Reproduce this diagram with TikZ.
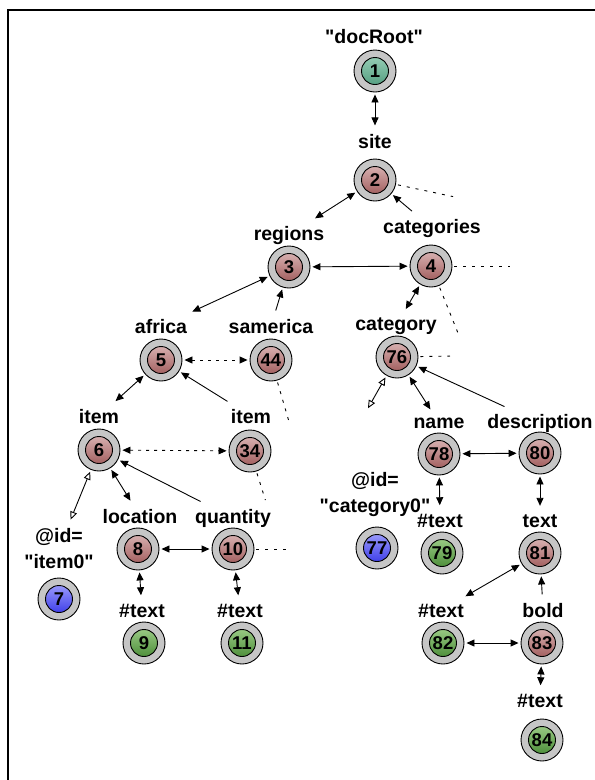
\documentclass[tikz,border=0pt]{standalone}
\usepackage{fontspec}
\setmainfont{Liberation Sans}[Ligatures=TeXOff]
\usetikzlibrary{arrows.meta,positioning}

\definecolor{ringgray}{RGB}{198,198,198}
\definecolor{elemtop}{RGB}{228,196,196}
\definecolor{elembot}{RGB}{150,76,76}
\definecolor{texttop}{RGB}{172,216,150}
\definecolor{textbot}{RGB}{58,128,40}
\definecolor{attrtop}{RGB}{176,176,255}
\definecolor{attrbot}{RGB}{40,40,228}
\definecolor{roottop}{RGB}{164,216,192}
\definecolor{rootbot}{RGB}{70,148,118}

\begin{document}
\begin{tikzpicture}[x=1pt,y=-1pt,line width=0.9pt,>={Triangle[length=8pt,width=7pt]},shorten >=2pt,shorten <=2pt]
    \tikzstyle{ring}=[circle,draw,fill=ringgray,minimum size=42pt,inner sep=0pt,font=\bfseries\fontsize{18.5}{18.5}\selectfont]
    \tikzstyle{root}=[ring,path picture={\shadedraw[top color=roottop,bottom color=rootbot] (path picture bounding box.center) circle (13.5pt);}]
    \tikzstyle{elem}=[ring,path picture={\shadedraw[top color=elemtop,bottom color=elembot] (path picture bounding box.center) circle (13.5pt);}]
    \tikzstyle{txt}=[ring,path picture={\shadedraw[top color=texttop,bottom color=textbot] (path picture bounding box.center) circle (13.5pt);}]
    \tikzstyle{attr}=[ring,path picture={\shadedraw[top color=attrtop,bottom color=attrbot] (path picture bounding box.center) circle (13.5pt);}]
    \tikzstyle{tag}=[anchor=base,inner sep=6pt,align=center,font=\bfseries\fontsize{19.5}{26}\selectfont]
    \tikzstyle{dotline}=[dash pattern=on 3pt off 6pt]
    \tikzstyle{sibling}=[dash pattern=on 3pt off 5pt]
    \tikzstyle{attrarrow}=[{Triangle[open,length=8pt,width=7pt]}-{Triangle[open,length=8pt,width=7pt]}]

    \useasboundingbox (0,0) rectangle (595,780);
    \draw[line width=1.2pt,shorten >=0pt,shorten <=0pt] (8,780) -- (8,10) -- (595,10);

    % circles
    \node[root] (n1)  at (375,71)  {1};
    \node[elem] (n2)  at (375,180) {2};
    \node[elem] (n3)  at (289,267) {3};
    \node[elem] (n4)  at (431,266) {4};
    \node[elem] (n5)  at (161,360) {5};
    \node[elem] (n44) at (271,360) {44};
    \node[elem] (n76) at (397,357) {76};
    \node[elem] (n6)  at (99,450)  {6};
    \node[elem] (n34) at (250,451) {34};
    \node[attr] (n7)  at (59,599)  {7};
    \node[elem] (n8)  at (138,549) {8};
    \node[elem] (n10) at (233,549) {10};
    \node[txt]  (n9)  at (144,643) {9};
    \node[txt]  (n11) at (242,643) {11};
    \node[attr] (n77) at (377,548) {77};
    \node[elem] (n78) at (439,454) {78};
    \node[elem] (n80) at (540,453) {80};
    \node[txt]  (n79) at (442,553) {79};
    \node[elem] (n81) at (540,553) {81};
    \node[txt]  (n82) at (443,643) {82};
    \node[elem] (n83) at (542,643) {83};
    \node[txt]  (n84) at (542,740) {84};

    % names
    \node[tag] (l1)  at (374,43)  {"docRoot"};
    \node[tag] (l2)  at (375,148) {site};
    \node[tag] (l3)  at (289,240) {regions};
    \node[tag] (l4)  at (432,233) {categories};
    \node[tag] (l5)  at (161,333) {africa};
    \node[tag] (l44) at (271,333) {samerica};
    \node[tag] (l76) at (396,330) {category};
    \node[tag] (l6)  at (99,423)  {item};
    \node[tag] (l34) at (251,423) {item};
    \node[tag] (l7)  at (59,568)  {@id=\\"item0"};
    \node[tag] (l8)  at (140,523) {location};
    \node[tag] (l10) at (233,523) {quantity};
    \node[tag] (l9)  at (142,617) {\#text};
    \node[tag] (l11) at (240,617) {\#text};
    \node[tag] (l77) at (375,512) {@id=\\"category0"};
    \node[tag] (l78) at (439,428) {name};
    \node[tag] (l80) at (540,428) {description};
    \node[tag] (l79) at (440,527) {\#text};
    \node[tag] (l81) at (540,527) {text};
    \node[tag] (l82) at (441,617) {\#text};
    \node[tag] (l83) at (543,617) {bold};
    \node[tag] (l84) at (540,707) {\#text};

    % cut-off siblings
    \coordinate (d2)  at (455,197);
    \coordinate (d4)  at (512,266);
    \coordinate (d4b) at (460,338);
    \coordinate (d76) at (452,356);
    \coordinate (d44) at (290,425);
    \coordinate (d34) at (266,502);
    \coordinate (d10) at (293,549);
    \coordinate (a77) at (367,410);

    \path[<->]
    (n1) edge (l2)
    (n2) edge (l3)
    (l4) edge [->] (n2)
    (n3) edge (n4)
    (n4) edge (l76)
    (n3) edge (l5)
    (l44) edge [->] (n3)
    (n5) edge [sibling] (n44)
    (n5) edge (l6)
    (l34) edge [->] (n5)
    (n6) edge [sibling] (n34)
    (n6) edge [attrarrow] (l7)
    (n6) edge (l8)
    (l10) edge [->] (n6)
    (n8) edge (n10)
    (n8) edge (l9)
    (n10) edge (l11)
    (n76) edge [attrarrow] (a77)
    (n76) edge (l78)
    (l80) edge [->] (n76)
    (n78) edge (n80)
    (n78) edge (l79)
    (n80) edge (l81)
    (n81) edge (l82)
    (l83) edge [->] (n81)
    (n82) edge (n83)
    (n83) edge (l84);

    \path[dotline]
    (n2) edge (d2)
    (n4) edge (d4)
    (n4) edge (d4b)
    (n76) edge (d76)
    (n44) edge (d44)
    (n34) edge (d34)
    (n10) edge (d10);
\end{tikzpicture}
\end{document}
